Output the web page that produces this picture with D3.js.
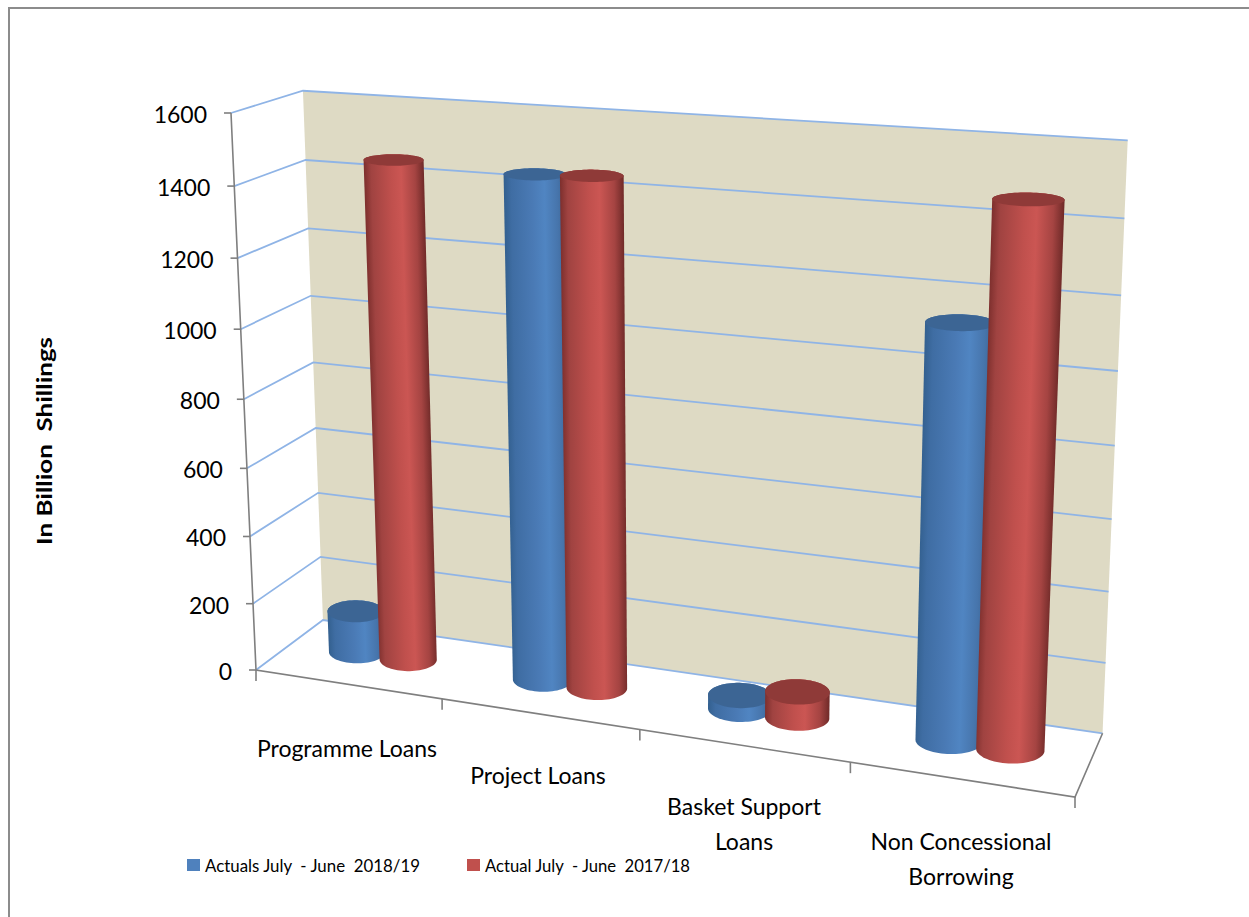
<!DOCTYPE html>
<html>
<head>
<meta charset="utf-8">
<script src="https://cdn.jsdelivr.net/npm/d3@7"></script>
<style>
  html, body { margin: 0; padding: 0; background: #fff; }
  svg { display: block; }
  text { font-family: Lato, "Open Sans", sans-serif; fill: #000; white-space: pre; }
</style>
</head>
<body>
<svg id="chart" width="1249" height="917"></svg>
<script>
// Loan categories, wrapped the way they appear under the floor
const categories = ["Programme Loans", "Project Loans", "Basket Support Loans", "Non Concessional Borrowing"];
const categoryLines = [["Programme Loans"], ["Project Loans"], ["Basket Support", "Loans"], ["Non Concessional", "Borrowing"]];
const seriesNames = ["Actuals July  - June  2018/19", "Actual July  - June  2017/18"];
const actuals201819 = [125, 1445, 40, 1140];
const actuals201718 = [1457, 1452, 75, 1470];
const valueTicks = [0, 200, 400, 600, 800, 1000, 1200, 1400, 1600];
const axisTitle = "In Billion  Shillings";

const svg = d3.select("#chart");
const defs = svg.append("defs");

// Normalised box coordinates: u across the categories, v up the values, z into the wall
const uScale = d3.scaleBand().domain(categories).range([0, 1]);
const vScale = d3.scaleLinear().domain([0, 1600]).range([0, 1]);
const barSeries = d3.scaleBand().domain(seriesNames).range([0, uScale.bandwidth()]).paddingOuter(0.78).paddingInner(0);

// Camera: front plane quad plus the vanishing point of the depth edges
const frontQuad = { o: [256, 670], a: [1075, 797], b: [231, 113], ab: [1100, 169] };
const depthVanish = [1547, -294];
const depthWeight = 0.0547;

function buildProjector(q, vp, lambda) {
  const dx1 = q.a[0] - q.ab[0], dx2 = q.b[0] - q.ab[0], sx = q.o[0] - q.a[0] + q.ab[0] - q.b[0];
  const dy1 = q.a[1] - q.ab[1], dy2 = q.b[1] - q.ab[1], sy = q.o[1] - q.a[1] + q.ab[1] - q.b[1];
  const det = dx1 * dy2 - dx2 * dy1;
  const g = (sx * dy2 - dx2 * sy) / det, h = (dx1 * sy - sx * dy1) / det;
  const m = {
    ux: q.a[0] - q.o[0] + g * q.a[0], vx: q.b[0] - q.o[0] + h * q.b[0],
    uy: q.a[1] - q.o[1] + g * q.a[1], vy: q.b[1] - q.o[1] + h * q.b[1]
  };
  return (u, v, z) => {
    const w = 1 + g * u + h * v + lambda * z;
    return [
      (q.o[0] + m.ux * u + m.vx * v + lambda * vp[0] * z) / w,
      (q.o[1] + m.uy * u + m.vy * v + lambda * vp[1] * z) / w
    ];
  };
}
const project = buildProjector(frontQuad, depthVanish, depthWeight);
const pathOf = d3.line();

// Chart border: only its top and left edges fall inside the page
svg.append("path").attr("d", pathOf([[9, 917], [9, 8], [1249, 8]]))
  .attr("fill", "none").attr("stroke", "#8c8c8c").attr("stroke-width", 2);

// Back wall
svg.append("path")
  .attr("d", pathOf([project(0, 0, 1), project(0, 1, 1), project(1, 1, 1), project(1, 0, 1)]) + "Z")
  .attr("fill", "#dedac4");

// Gridlines on the side wall and the back wall
const grid = svg.append("g").attr("fill", "none").attr("stroke", "#8fb4e6").attr("stroke-width", 1.8);
valueTicks.forEach(t => {
  const v = vScale(t);
  grid.append("path").attr("d", pathOf([project(0, v, 0), project(0, v, 1), project(1, v, 1)]));
});

// Axes
const axes = svg.append("g").attr("fill", "none").attr("stroke", "#7f7f7f").attr("stroke-width", 1.6);
axes.append("path").attr("d", pathOf([project(0, 1, 0), project(0, 0, 0), project(1, 0, 0), project(1, 0, 1)]));
valueTicks.forEach(t => {
  const p = project(0, vScale(t), 0);
  axes.append("path").attr("d", pathOf([[p[0] - 7, p[1]], p]));
});
[0, 1, 2, 3, 4].forEach(i => {
  const p = project(i / 4, 0, 0);
  axes.append("path").attr("d", pathOf([p, [p[0], p[1] + 11]]));
});

// Value labels
svg.append("g").selectAll("text").data(valueTicks).join("text")
  .attr("x", t => project(0, vScale(t), 0)[0] - 24)
  .attr("y", t => project(0, vScale(t), 0)[1] + 10)
  .attr("text-anchor", "end")
  .attr("font-size", 23)
  .text(t => t);

// Category labels
const labelAnchors = [[347, 757], [538, 784], [744, 815], [961, 850]];
categories.forEach((c, i) => {
  categoryLines[i].forEach((line, k) => {
    svg.append("text")
      .attr("x", labelAnchors[i][0]).attr("y", labelAnchors[i][1] + k * 35)
      .attr("text-anchor", "middle").attr("font-size", 23).text(line);
  });
});

// Axis title
svg.append("text")
  .attr("transform", "translate(52,441) rotate(-90)")
  .attr("text-anchor", "middle").attr("font-size", 21).attr("font-weight", 700)
  .attr("textLength", 208).attr("lengthAdjust", "spacingAndGlyphs")
  .text(axisTitle);

// Horizontal shading stops for each series' cylinder wall
const palettes = [
  { top: "#3c6594", stops: [[0, "#33608f"], [0.12, "#3f6da3"], [0.45, "#4a7ab5"], [0.65, "#5085c2"], [0.85, "#4775ac"], [1, "#3a6493"]] },
  { top: "#8f3a38", stops: [[0, "#7d2f2d"], [0.12, "#a04341"], [0.45, "#c0504d"], [0.62, "#cb5653"], [0.85, "#a54442"], [1, "#6f2a28"]] }
];

// Round section of a cylinder: both axes are flattened so the ellipses sit nearly level
function section(cu, ru, cz, rz, v) {
  const c = project(cu, v, cz);
  const across = project(cu + ru, v, cz);
  const deep = project(cu, v, cz + rz);
  const ax = across[0] - c[0], ay = (across[1] - c[1]) * 0.35;
  const dx = (deep[0] - c[0]) * 0.25, dy = deep[1] - c[1];
  return d3.range(72).map(i => {
    const t = i / 72 * 2 * Math.PI;
    return [c[0] + ax * Math.cos(t) + dx * Math.sin(t), c[1] + ay * Math.cos(t) + dy * Math.sin(t)];
  });
}

function drawCylinder(parent, id, u0, u1, top, palette) {
  const cu = (u0 + u1) / 2, ru = (u1 - u0) / 2 * 1.1, cz = 0.54, rz = 0.225;
  const low = section(cu, ru, cz, rz, 0), high = section(cu, ru, cz, rz, top);
  const hull = d3.polygonHull(low.concat(high));

  // run the wall shading across the silhouette, square to the cylinder's axis
  const a = project(cu, 0, cz), b = project(cu, top, cz);
  const len = Math.hypot(b[0] - a[0], b[1] - a[1]) || 1;
  const nx = -(b[1] - a[1]) / len, ny = (b[0] - a[0]) / len;
  const sx = nx >= 0 ? 1 : -1;
  const dots = hull.map(p => (p[0] - a[0]) * nx * sx + (p[1] - a[1]) * ny * sx);
  const lo = d3.min(dots), hi = d3.max(dots);
  const grad = defs.append("linearGradient").attr("id", id).attr("gradientUnits", "userSpaceOnUse")
    .attr("x1", a[0] + nx * sx * lo).attr("y1", a[1] + ny * sx * lo)
    .attr("x2", a[0] + nx * sx * hi).attr("y2", a[1] + ny * sx * hi);
  palette.stops.forEach(s => grad.append("stop").attr("offset", s[0]).attr("stop-color", s[1]));

  parent.append("path").attr("d", pathOf(hull) + "Z").attr("fill", `url(#${id})`);
  parent.append("path").attr("d", pathOf(high) + "Z").attr("fill", palette.top);
}

const bars = svg.append("g");
categories.forEach((c, i) => {
  [actuals201819, actuals201718].forEach((values, s) => {
    const u0 = uScale(c) + barSeries(seriesNames[s]);
    drawCylinder(bars, `wall-${i}-${s}`, u0, u0 + barSeries.bandwidth(), vScale(values[i]), palettes[s]);
  });
});

// Legend
const legendItems = [{ x: 187, color: "#4f81bd", width: 215 }, { x: 467, color: "#c0504d", width: 205 }];
seriesNames.forEach((name, i) => {
  svg.append("rect").attr("x", legendItems[i].x).attr("y", 859).attr("width", 13).attr("height", 12).attr("fill", legendItems[i].color);
  svg.append("text").attr("x", legendItems[i].x + 18).attr("y", 872).attr("font-size", 18)
    .attr("textLength", legendItems[i].width).attr("lengthAdjust", "spacingAndGlyphs").text(name);
});
</script>
</body>
</html>
